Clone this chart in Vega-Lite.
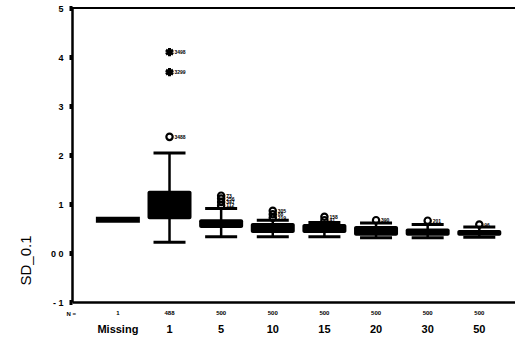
{
  "$schema": "https://vega.github.io/schema/vega-lite/v6.json",
  "width": 443,
  "height": 294,
  "autosize": {"type": "none"},
  "padding": {"left": 72, "top": 8, "right": 0, "bottom": 40},
  "background": "white",
  "config": {"view": {"stroke": null}, "font": "Liberation Sans"},
  "datasets": {
    "boxes": [
      {"cat": "Missing", "n": "1", "med": 0.68},
      {"cat": "1", "n": "488", "lo": 0.22, "q1": 0.69, "q3": 1.27, "hi": 2.04},
      {"cat": "5", "n": "500", "lo": 0.33, "q1": 0.51, "q3": 0.69, "hi": 0.91},
      {"cat": "10", "n": "500", "lo": 0.33, "q1": 0.41, "q3": 0.61, "hi": 0.67},
      {"cat": "15", "n": "500", "lo": 0.33, "q1": 0.41, "q3": 0.59, "hi": 0.62},
      {"cat": "20", "n": "500", "lo": 0.31, "q1": 0.35, "q3": 0.55, "hi": 0.61},
      {"cat": "30", "n": "500", "lo": 0.31, "q1": 0.35, "q3": 0.5, "hi": 0.58},
      {"cat": "50", "n": "500", "lo": 0.32, "q1": 0.35, "q3": 0.47, "hi": 0.53}
    ],
    "outliers": [
      {"cat": "1", "v": 4.1, "kind": "extreme", "label": "3498"},
      {"cat": "1", "v": 3.69, "kind": "extreme", "label": "3299"},
      {"cat": "1", "v": 2.37, "kind": "outlier", "label": "3488"},
      {"cat": "5", "v": 0.97, "kind": "outlier", "label": "112"},
      {"cat": "5", "v": 1.04, "kind": "outlier", "label": "347"},
      {"cat": "5", "v": 1.11, "kind": "outlier", "label": "256"},
      {"cat": "5", "v": 1.17, "kind": "outlier", "label": "73"},
      {"cat": "10", "v": 0.72, "kind": "outlier", "label": "219"},
      {"cat": "10", "v": 0.79, "kind": "outlier", "label": "88"},
      {"cat": "10", "v": 0.86, "kind": "outlier", "label": "305"},
      {"cat": "15", "v": 0.67, "kind": "outlier", "label": "41"},
      {"cat": "15", "v": 0.74, "kind": "outlier", "label": "158"},
      {"cat": "20", "v": 0.67, "kind": "outlier", "label": "390"},
      {"cat": "30", "v": 0.66, "kind": "outlier", "label": "201"},
      {"cat": "50", "v": 0.58, "kind": "outlier", "label": "96"}
    ]
  },
  "layer": [
    {
      "data": {"name": "boxes"},
      "mark": {"type": "rule", "color": "black", "strokeWidth": 2.5},
      "encoding": {
        "x": {
          "field": "cat", "type": "nominal", "sort": null,
          "scale": {"type": "band", "domain": ["Missing", "1", "5", "10", "15", "20", "30", "50"], "paddingInner": 0, "paddingOuter": 0.29, "align": 0.67},
          "axis": {
            "title": "N =", "titleX": -6, "titleY": 11, "titleAlign": "left", "titleBaseline": "middle",
            "titleFontSize": 6, "titleFontWeight": "bold", "titleColor": "black",
            "labelFontSize": 11, "labelFontWeight": "bold", "labelColor": "black", "labelPadding": 21, "labelAngle": 0,
            "ticks": false, "domainColor": "black", "domainWidth": 2.5, "grid": false
          }
        },
        "y": {
          "field": "lo", "type": "quantitative",
          "scale": {"domain": [-1, 5], "nice": false, "zero": false},
          "axis": {
            "title": "SD_0.1", "titleX": -47, "titleY": 252, "titleAngle": -90, "titleAlign": "center", "titleBaseline": "middle",
            "titleFontSize": 15, "titleFontWeight": "normal", "titleColor": "black",
            "values": [-1, 0, 1, 2, 3, 4, 5], "labelExpr": "datum.value === 0 ? '0 0' : datum.value === -1 ? '- 1' : datum.label",
            "labelFontSize": 9, "labelFontWeight": "bold", "labelColor": "black", "labelPadding": 6,
            "tickSize": 3, "tickWidth": 5, "tickColor": "black", "domainColor": "black", "domainWidth": 2.5, "grid": false
          }
        },
        "y2": {"field": "hi"}
      }
    },
    {
      "data": {"values": [{"v": 5}]},
      "mark": {"type": "rule", "color": "black", "strokeWidth": 2},
      "encoding": {"y": {"field": "v", "type": "quantitative", "title": "SD_0.1"}}
    },
    {
      "data": {"name": "boxes"},
      "mark": {"type": "tick", "color": "black", "opacity": 1, "size": 32, "thickness": 3},
      "encoding": {
        "x": {"field": "cat", "type": "nominal", "title": "N ="},
        "y": {"field": "lo", "type": "quantitative", "title": "SD_0.1"}
      }
    },
    {
      "data": {"name": "boxes"},
      "mark": {"type": "tick", "color": "black", "opacity": 1, "size": 32, "thickness": 3},
      "encoding": {
        "x": {"field": "cat", "type": "nominal", "title": "N ="},
        "y": {"field": "hi", "type": "quantitative", "title": "SD_0.1"}
      }
    },
    {
      "data": {"name": "boxes"},
      "mark": {"type": "bar", "color": "black", "opacity": 1, "size": 44, "cornerRadius": 2},
      "encoding": {
        "x": {"field": "cat", "type": "nominal", "title": "N ="},
        "y": {"field": "q1", "type": "quantitative", "title": "SD_0.1"},
        "y2": {"field": "q3"}
      }
    },
    {
      "data": {"name": "boxes"},
      "mark": {"type": "tick", "color": "black", "opacity": 1, "size": 44, "thickness": 6},
      "encoding": {
        "x": {"field": "cat", "type": "nominal", "title": "N ="},
        "y": {"field": "med", "type": "quantitative", "title": "SD_0.1"}
      }
    },
    {
      "data": {"name": "outliers"},
      "transform": [{"filter": "datum.kind === 'outlier'"}],
      "mark": {"type": "point", "shape": "circle", "filled": false, "color": "black", "strokeWidth": 2.2, "size": 40, "opacity": 1},
      "encoding": {
        "x": {"field": "cat", "type": "nominal", "title": "N ="},
        "y": {"field": "v", "type": "quantitative", "title": "SD_0.1"}
      }
    },
    {
      "data": {"name": "outliers"},
      "transform": [{"filter": "datum.kind === 'extreme'"}],
      "mark": {"type": "point", "shape": "M0,-1L0,1M-0.87,-0.5L0.87,0.5M-0.87,0.5L0.87,-0.5", "filled": false, "color": "black", "strokeWidth": 3, "size": 70, "opacity": 1},
      "encoding": {
        "x": {"field": "cat", "type": "nominal", "title": "N ="},
        "y": {"field": "v", "type": "quantitative", "title": "SD_0.1"}
      }
    },
    {
      "data": {"name": "outliers"},
      "mark": {"type": "text", "fill": "black", "fontSize": 5, "fontWeight": "bold", "align": "left", "baseline": "middle", "dx": 5},
      "encoding": {
        "x": {"field": "cat", "type": "nominal", "title": "N ="},
        "y": {"field": "v", "type": "quantitative", "title": "SD_0.1"},
        "text": {"field": "label"}
      }
    },
    {
      "data": {"name": "boxes"},
      "mark": {"type": "text", "fill": "black", "fontSize": 6, "fontWeight": "bold", "align": "center", "baseline": "middle", "dy": 11},
      "encoding": {
        "x": {"field": "cat", "type": "nominal", "title": "N ="},
        "y": {"datum": -1, "type": "quantitative", "title": "SD_0.1"},
        "text": {"field": "n"}
      }
    }
  ]
}
